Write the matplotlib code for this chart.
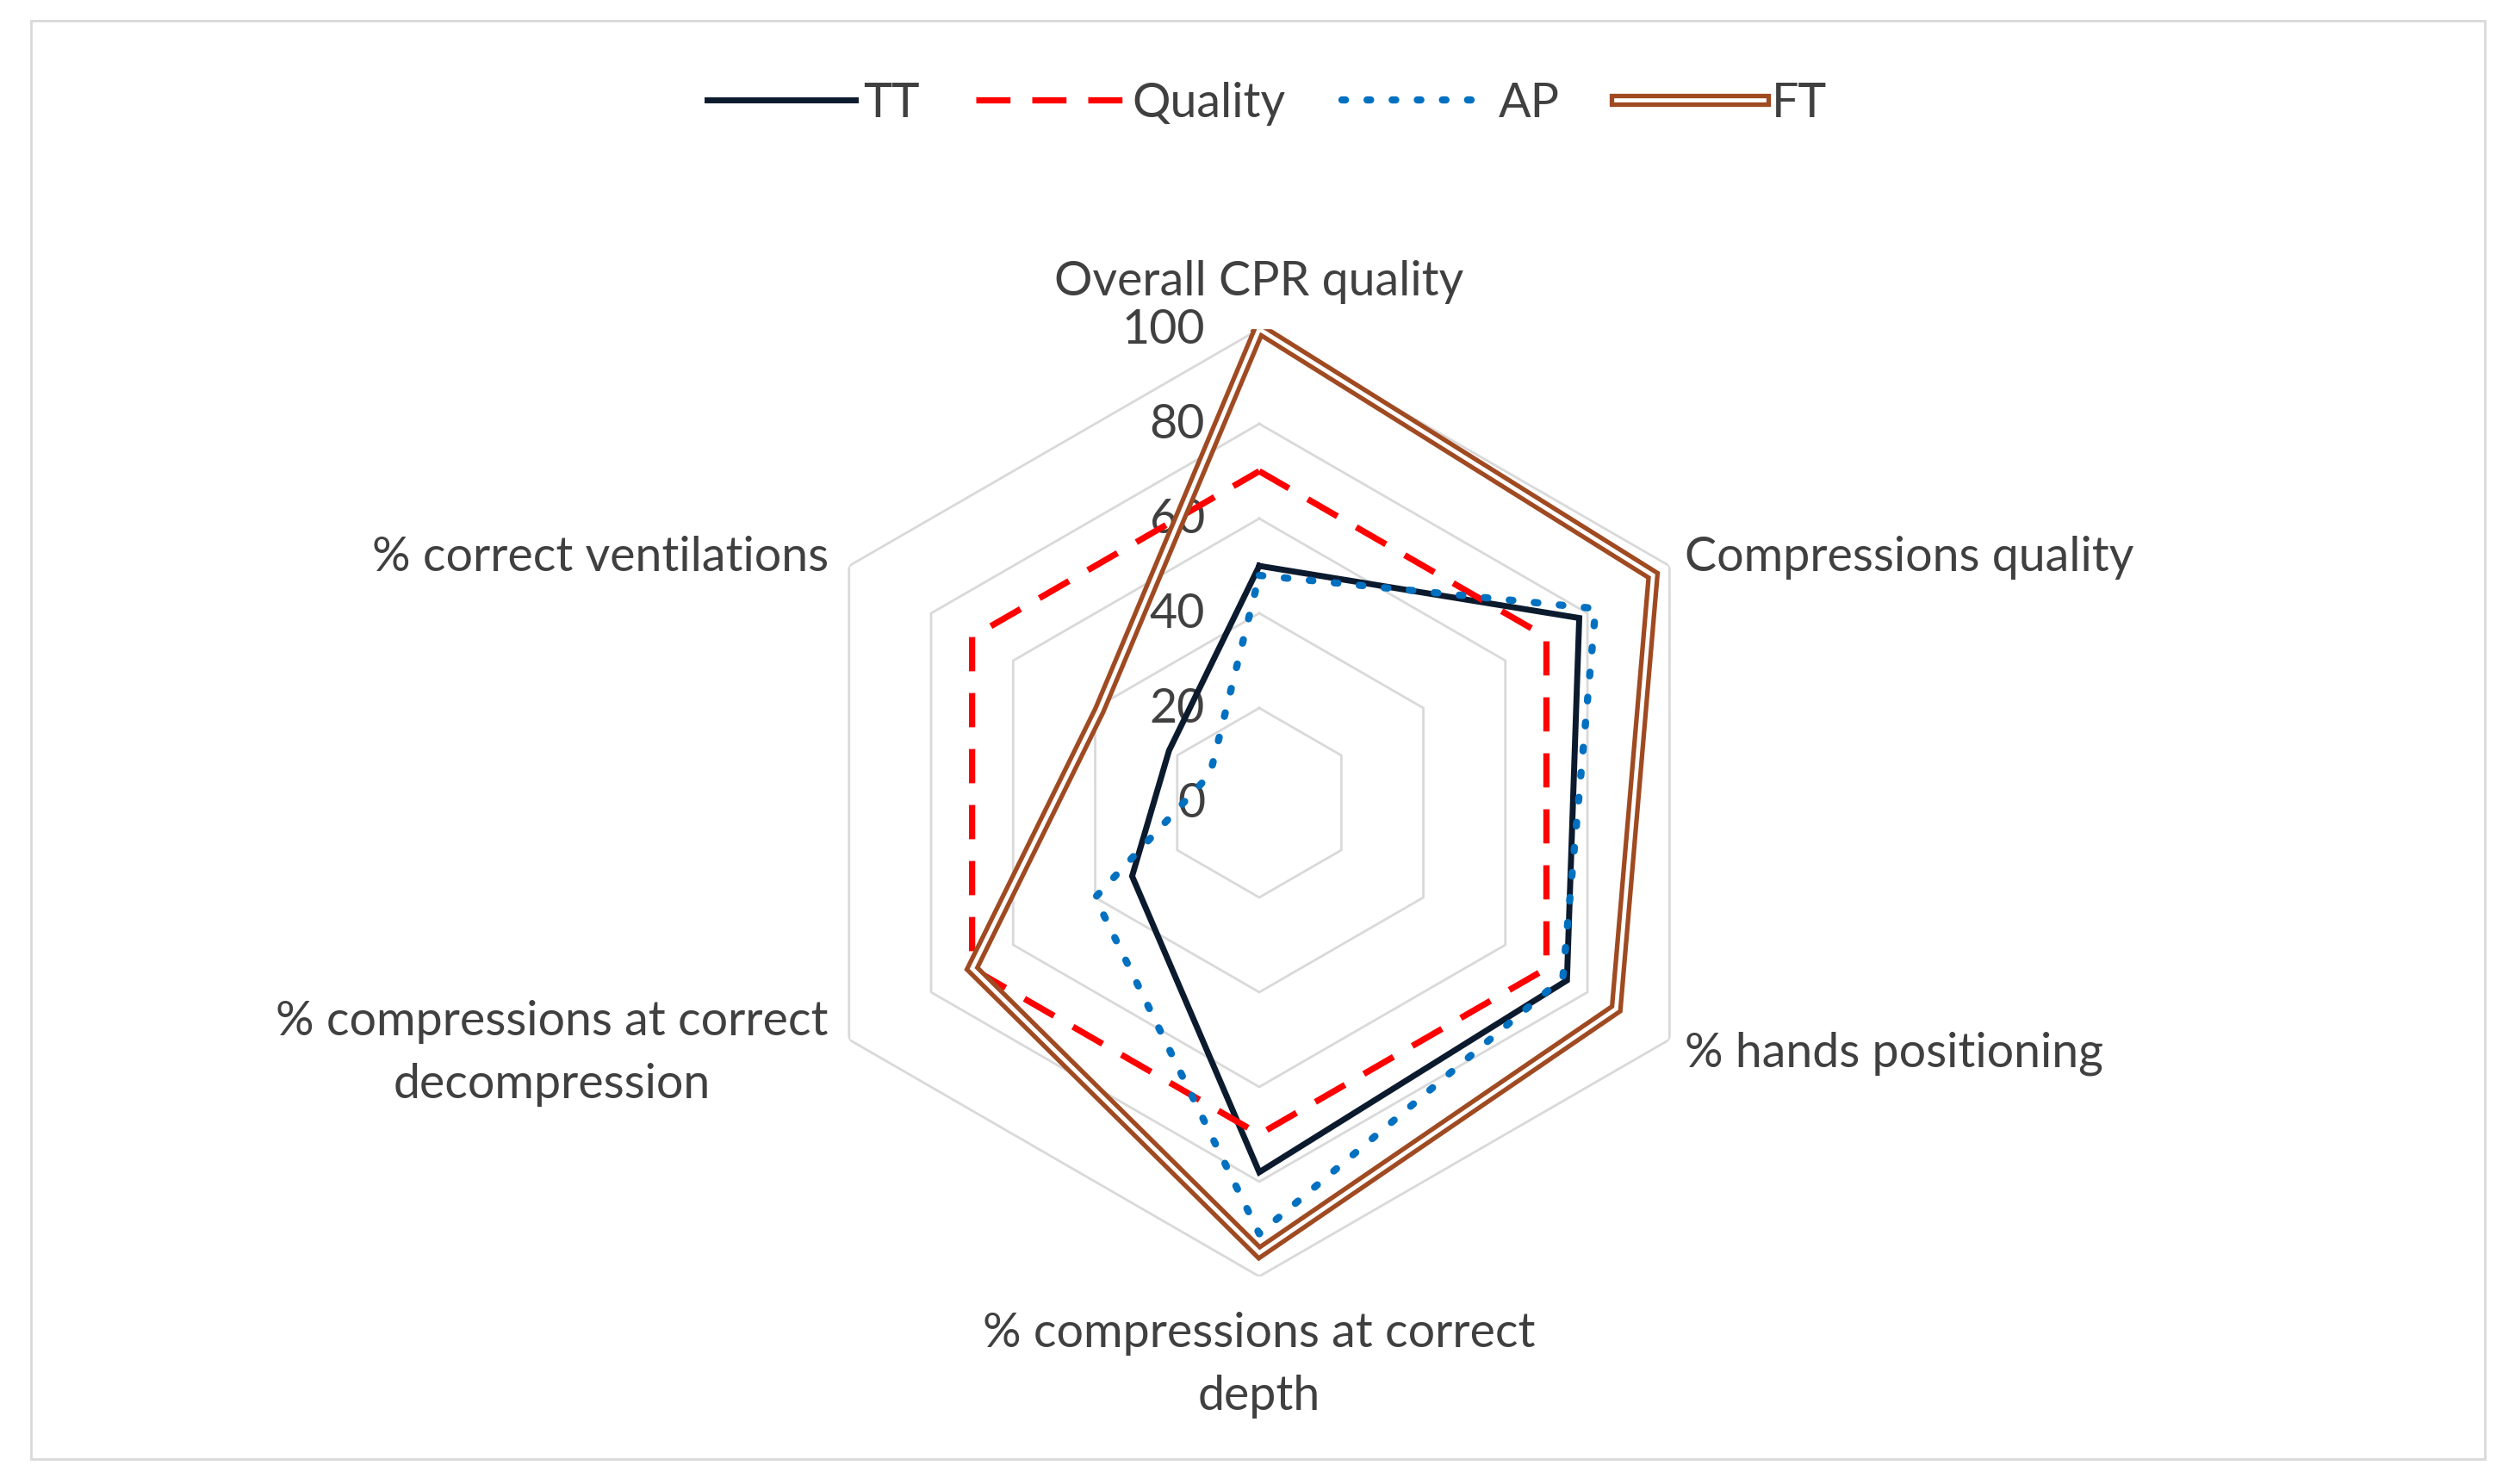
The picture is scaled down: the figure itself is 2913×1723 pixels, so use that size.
import numpy as np
import matplotlib
matplotlib.use('Agg')
import matplotlib.pyplot as plt
import matplotlib.patheffects as pe
from matplotlib.transforms import offset_copy
from matplotlib.patches import Rectangle

plt.rcParams['font.family'] = ['Lato', 'DejaVu Sans']

categories = ['Overall CPR quality', 'Compressions quality', '% hands positioning',
              '% compressions at correct\ndepth', '% compressions at correct\ndecompression',
              '% correct ventilations']
tt = [50, 78, 75, 78, 31, 22]
quality = [70, 70, 70, 70, 70, 70]
ap = [48, 82, 74, 91, 40, 12]
ft = [100, 96, 87, 95, 70, 39]
rticks = [0, 20, 40, 60, 80, 100]

txt_col = '#404040'
fs = 40

fig = plt.figure(figsize=(29.13, 17.24), dpi=100)
fig.patches.append(Rectangle((0.0124, 0.0168), 0.978, 0.9687, transform=fig.transFigure,
                             fill=False, edgecolor='#d9d9d9', lw=2))

ax = fig.add_axes([0.3131, 0.1398, 0.3776, 0.638], polar=True)
ax.set_theta_zero_location('N')
ax.set_theta_direction(-1)
ax.set_ylim(0, 100)
ax.grid(False)
ax.spines['polar'].set_visible(False)
ax.set_xticks([])
ax.set_yticks([])
ax.patch.set_alpha(0)

angles = np.linspace(0, 2 * np.pi, len(categories), endpoint=False)
closed = np.append(angles, angles[0])

def close(v):
    return np.append(v, v[0])

# hexagon grid
for lv in rticks[1:]:
    ax.plot(closed, [lv] * len(closed), color='#d9d9d9', lw=2, zorder=1)

l_tt, = ax.plot(closed, close(tt), color='#0c1a2e', lw=5, zorder=3,
                solid_joinstyle='miter', label='TT')
l_q, = ax.plot(closed, close(quality), color='#ff0000', lw=5.2, zorder=4,
               linestyle=(0, (5.5, 3.5)), dash_capstyle='butt', label='Quality')
l_ap, = ax.plot(closed, close(ap), color='#0070c0', lw=6, zorder=5,
                linestyle=(0, (0.5, 3.0)), dash_capstyle='round', label='AP')
# double line: white core with a brown stroke around it
l_ft, = ax.plot(closed, close(ft), color='white', lw=3.4, zorder=6,
                solid_joinstyle='miter', label='FT',
                path_effects=[pe.Stroke(linewidth=11, foreground='#a04a22'), pe.Normal()])

# radial labels
for lv in rticks:
    tr = offset_copy(ax.transData, fig=fig, x=-63, y=0, units='dots')
    ax.text(0, lv, str(lv), transform=tr, ha='right', va='center',
            fontsize=fs, color=txt_col, zorder=2)

# category labels
offs = [(0, 56, 'center', 'center'), (18, 11, 'left', 'center'),
        (18, -15, 'left', 'center'), (0, -102, 'center', 'center'),
        (-24, -15, 'right', 'center'), (-24, 11, 'right', 'center')]
for a, lab, (dx, dy, ha, va) in zip(angles, categories, offs):
    tr = offset_copy(ax.transData, fig=fig, x=dx, y=dy, units='dots')
    ax.text(a, 100, lab, transform=tr, ha=ha, va=va, fontsize=fs, color=txt_col,
            multialignment='center', linespacing=1.55, clip_on=False)

fig.legend([l_tt, l_q, l_ap, l_ft], ['TT', 'Quality', 'AP', 'FT'],
           loc='center', bbox_to_anchor=(0.505, 0.930), ncol=4, frameon=False,
           fontsize=fs, labelcolor=txt_col, handlelength=3.1, handletextpad=0.17,
           columnspacing=1.17)

fig.savefig('out.png', dpi=100, facecolor='white')
